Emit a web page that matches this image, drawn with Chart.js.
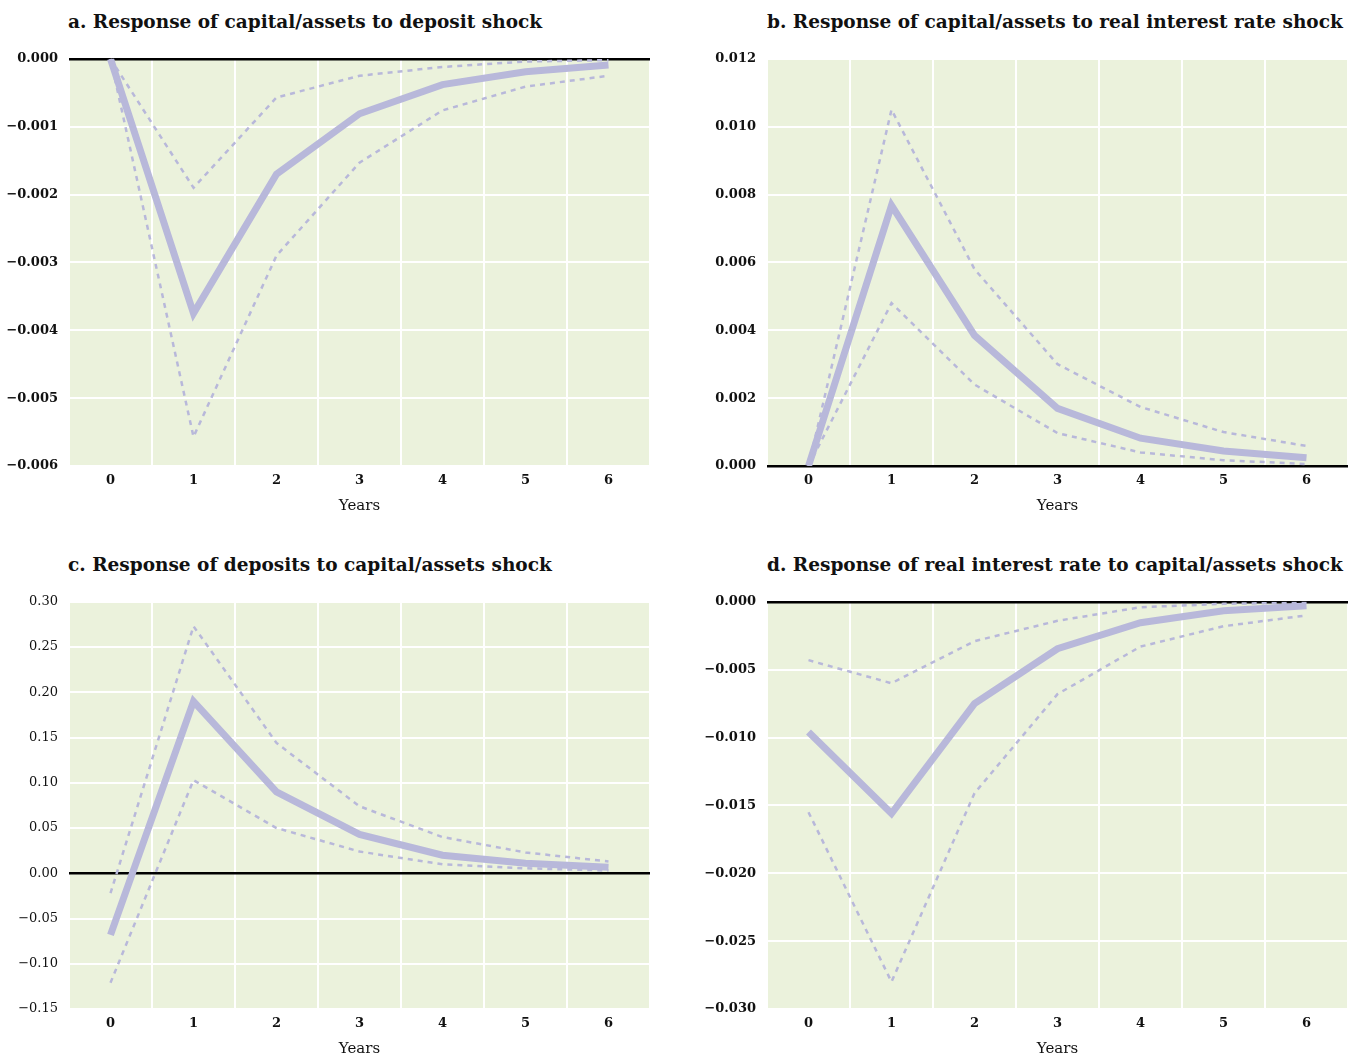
<!DOCTYPE html>
<html>
<head>
<meta charset="utf-8">
<script src="https://cdn.jsdelivr.net/npm/chart.js@4.4.1/dist/chart.umd.min.js"></script>
<style>
  body { margin: 0; background: #fff; }
  #pagina { position: relative; width: 1350px; height: 1053px; overflow: hidden; }
  .titulo { position: absolute; font-family: "DejaVu Serif", serif; font-weight: bold; font-size: 18.5px; line-height: 24px; color: #111; white-space: nowrap; }
  canvas { position: absolute; }
</style>
</head>
<body>
<div id="pagina">
  <div class="titulo" style="left:68px; top:10px;">a. Response of capital/assets to deposit shock</div>
  <div class="titulo" style="left:767px; top:10px;">b. Response of capital/assets to real interest rate shock</div>
  <div class="titulo" style="left:68px; top:553px;">c. Response of deposits to capital/assets shock</div>
  <div class="titulo" style="left:767px; top:553px;">d. Response of real interest rate to capital/assets shock</div>
  <canvas id="graficoA" width="660" height="475" style="left:0px; top:40px;"></canvas>
  <canvas id="graficoB" width="650" height="475" style="left:700px; top:40px;"></canvas>
  <canvas id="graficoC" width="660" height="475" style="left:0px; top:583px;"></canvas>
  <canvas id="graficoD" width="650" height="475" style="left:700px; top:583px;"></canvas>
</div>
<script>
// eixo x: anos depois do choque
const anos = ['0', '1', '2', '3', '4', '5', '6'];

// a. capital/ativos -> choque de depositos
const aResposta = [0, -0.00375, -0.0017, -0.00081, -0.00038, -0.00019, -0.00009];
const aSuperior = [0, -0.0019, -0.00057, -0.00025, -0.00012, -0.00004, -0.00002];
const aInferior = [0, -0.00557, -0.0029, -0.00153, -0.00076, -0.00041, -0.00025];

// b. capital/ativos -> choque de juros reais
const bResposta = [0, 0.00768, 0.00385, 0.0017, 0.00082, 0.00044, 0.00024];
const bSuperior = [0, 0.0105, 0.0058, 0.003, 0.00174, 0.001, 0.00059];
const bInferior = [0, 0.0048, 0.0024, 0.00097, 0.0004, 0.00017, 0.00006];

// c. depositos -> choque de capital/ativos
const cResposta = [-0.068, 0.19, 0.09, 0.043, 0.02, 0.011, 0.0066];
const cSuperior = [-0.022, 0.273, 0.144, 0.074, 0.04, 0.023, 0.013];
const cInferior = [-0.121, 0.103, 0.05, 0.024, 0.01, 0.0055, 0.003];

// d. juros reais -> choque de capital/ativos
const dResposta = [-0.0096, -0.0156, -0.0075, -0.00346, -0.00154, -0.00066, -0.0003];
const dSuperior = [-0.0043, -0.006, -0.0029, -0.0014, -0.0004, -0.00015, -0.00005];
const dInferior = [-0.0155, -0.028, -0.0141, -0.0068, -0.0033, -0.0018, -0.001];

// limites dos eixos y: [min, max, passo, casas decimais]
const eixoA = [-0.006, 0, 0.001, 3];
const eixoB = [0, 0.012, 0.002, 3];
const eixoC = [-0.15, 0.30, 0.05, 2];
const eixoD = [-0.030, 0, 0.005, 3];

const lilas = '#b8b8da';
const serifa = '"DejaVu Serif", serif';

// pinta o fundo verde so dentro da area do grafico
const fundoVerde = {
  id: 'fundoVerde',
  beforeDraw(chart) {
    const { ctx, chartArea } = chart;
    ctx.save();
    ctx.fillStyle = '#ebf2dc';
    ctx.fillRect(chartArea.left, chartArea.top, chartArea.width, chartArea.height);
    ctx.restore();
  }
};

function criarGrafico(id, resposta, superior, inferior, eixo, negrito, larguraY, margemDir) {
  return new Chart(document.getElementById(id), {
    type: 'line',
    data: {
      labels: anos,
      datasets: [
        { data: superior, borderColor: lilas, borderWidth: 2.5, borderDash: [5, 5], pointRadius: 0, tension: 0, fill: false },
        { data: inferior, borderColor: lilas, borderWidth: 2.5, borderDash: [5, 5], pointRadius: 0, tension: 0, fill: false },
        { data: resposta, borderColor: lilas, borderWidth: 7, pointRadius: 0, tension: 0, fill: false }
      ]
    },
    options: {
      responsive: false,
      animation: false,
      events: [],
      layout: { padding: { top: 18, right: margemDir, left: 0, bottom: 0 } },
      plugins: { legend: { display: false }, tooltip: { enabled: false } },
      scales: {
        x: {
          type: 'category',
          offset: true,
          grid: { offset: true, color: '#ffffff', lineWidth: 2, drawTicks: false },
          border: { display: false },
          ticks: { color: '#111', padding: 7, font: { family: serifa, size: 13, weight: 'bold' } },
          title: { display: true, text: 'Years', color: '#111', padding: { top: 6, bottom: 0 }, font: { family: serifa, size: 15 } },
          afterFit(scale) { scale.height = 49; }
        },
        y: {
          min: eixo[0],
          max: eixo[1],
          grid: {
            drawTicks: false,
            // linha do zero em preto, as outras brancas
            color: (c) => Math.abs(c.tick.value) < 1e-9 ? '#000000' : '#ffffff',
            lineWidth: (c) => Math.abs(c.tick.value) < 1e-9 ? 2.5 : 2
          },
          border: { display: false },
          ticks: {
            stepSize: eixo[2],
            padding: 11,
            color: '#111',
            font: { family: serifa, size: 13, weight: negrito ? 'bold' : 'normal' },
            callback: (v) => {
              let t = Number(v).toFixed(eixo[3]);
              if (Math.abs(v) < 1e-9) t = (0).toFixed(eixo[3]);
              return t.replace('-', '\u2212');
            }
          },
          afterFit(scale) { scale.width = larguraY; }
        }
      }
    },
    plugins: [fundoVerde]
  });
}

criarGrafico('graficoA', aResposta, aSuperior, aInferior, eixoA, true, 69, 10);
criarGrafico('graficoB', bResposta, bSuperior, bInferior, eixoB, true, 67, 2);
criarGrafico('graficoC', cResposta, cSuperior, cInferior, eixoC, false, 69, 10);
criarGrafico('graficoD', dResposta, dSuperior, dInferior, eixoD, true, 67, 2);
</script>
</body>
</html>
